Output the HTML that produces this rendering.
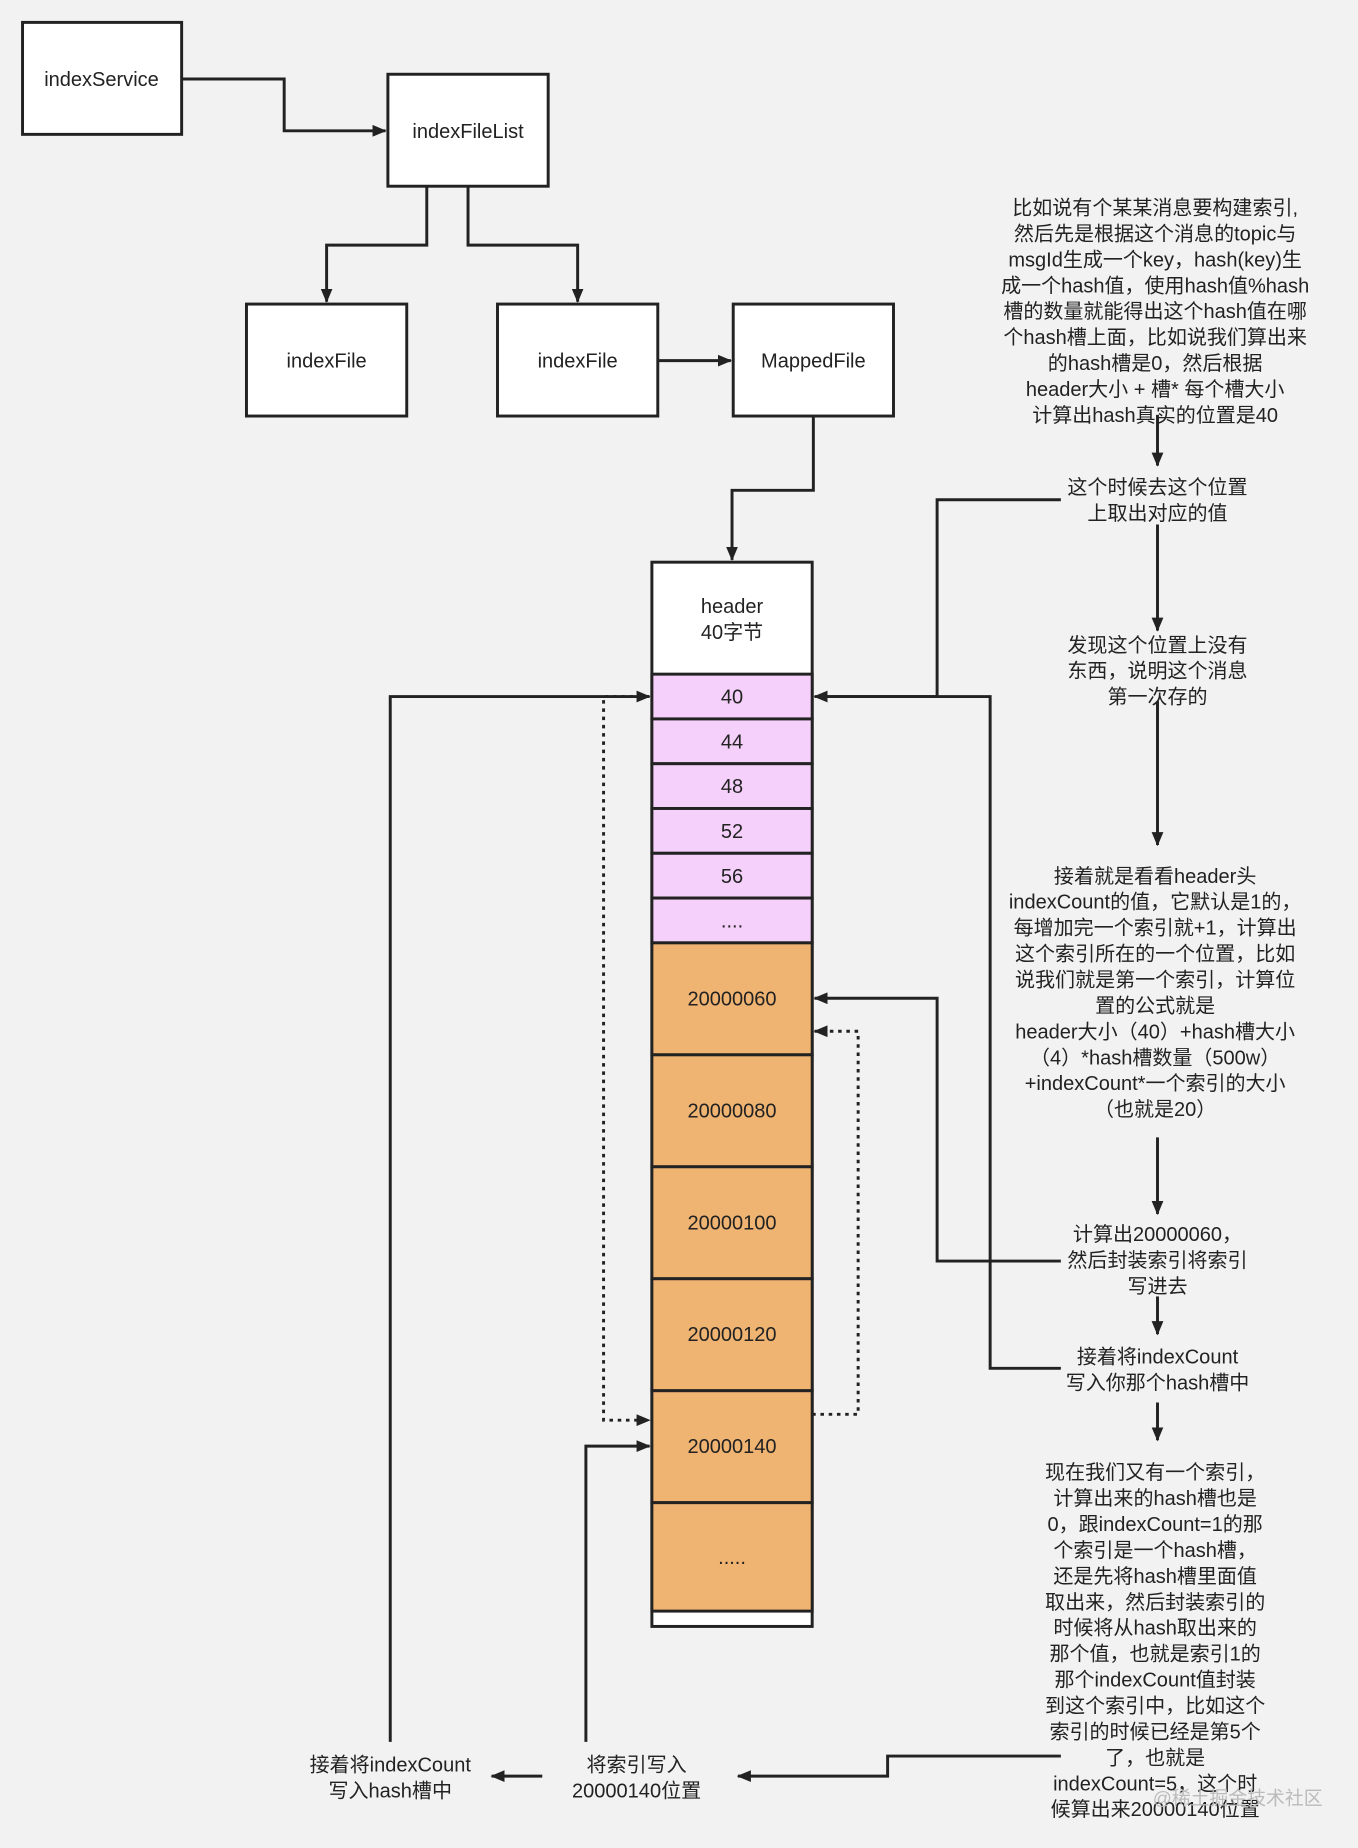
<!DOCTYPE html>
<html><head><meta charset="utf-8"><style>
html,body{margin:0;padding:0;background:#f2f2f2}
svg{display:block}
text{font-family:"Liberation Sans","Noto Sans CJK SC",sans-serif;font-size:17px;fill:#222;text-anchor:middle}
</style></head><body>
<svg width="1358" height="1848" viewBox="0 0 1152 1568" xmlns="http://www.w3.org/2000/svg">
<defs><marker id="a" markerWidth="12" markerHeight="10" refX="11" refY="5" orient="auto" markerUnits="userSpaceOnUse"><path d="M0,0 L12,5 L0,10 z" fill="#222"/></marker></defs>
<rect width="1152" height="1568" fill="#f2f2f2"/>
<g stroke="#222" stroke-width="2.5" fill="#fff">
<rect x="19" y="19" width="135" height="95"/>
<rect x="329" y="63" width="136" height="95"/>
<rect x="209" y="258" width="136" height="95"/>
<rect x="422" y="258" width="136" height="95"/>
<rect x="622" y="258" width="136" height="95"/>
<rect x="553" y="477" width="136" height="903"/>
<g fill="#f5d0fa"><rect x="553" y="572" width="136" height="38"/><rect x="553" y="610" width="136" height="38"/><rect x="553" y="648" width="136" height="38"/><rect x="553" y="686" width="136" height="38"/><rect x="553" y="724" width="136" height="38"/><rect x="553" y="762" width="136" height="38"/></g>
<g fill="#f0b472"><rect x="553" y="800" width="136" height="95"/><rect x="553" y="895" width="136" height="95"/><rect x="553" y="990" width="136" height="95"/><rect x="553" y="1085" width="136" height="95"/><rect x="553" y="1180" width="136" height="95"/><rect x="553" y="1275" width="136" height="92"/></g>
</g>
<g stroke="#222" stroke-width="2.5" fill="none">
<path d="M154,67 H241 V111 H327" marker-end="url(#a)"/>
<path d="M362,158 V208 H277 V256" marker-end="url(#a)"/>
<path d="M397,158 V208 H490 V256" marker-end="url(#a)"/>
<path d="M558,306 H620" marker-end="url(#a)"/>
<path d="M690,353 V416 H621 V475" marker-end="url(#a)"/>
<path d="M982,352 V395" marker-end="url(#a)"/>
<path d="M982,445 V535" marker-end="url(#a)"/>
<path d="M982,595 V717" marker-end="url(#a)"/>
<path d="M982,965 V1030" marker-end="url(#a)"/>
<path d="M982,1100 V1132" marker-end="url(#a)"/>
<path d="M982,1190 V1222" marker-end="url(#a)"/>
<path d="M900,424 H795 V591 H691" marker-end="url(#a)"/>
<path d="M900,1070 H795 V847 H691" marker-end="url(#a)"/>
<path d="M900,1161 H840 V591 H700"/>
<path d="M900,1490 H753 V1507 H626" marker-end="url(#a)"/>
<path d="M497,1478 V1227 H551" marker-end="url(#a)"/>
<path d="M460,1507 H417" marker-end="url(#a)"/>
<path d="M331,1478 V591 H551" marker-end="url(#a)"/>
<path d="M551,591 H512 V1205 H551" stroke-dasharray="3,4" marker-end="url(#a)"/>
<path d="M689,1200 H728 V875 H691" stroke-dasharray="3,4" marker-end="url(#a)"/>
</g>
<text x="86" y="73">indexService</text>
<text x="397" y="117">indexFileList</text>
<text x="277" y="312">indexFile</text>
<text x="490" y="312">indexFile</text>
<text x="690" y="312">MappedFile</text>
<text x="621" y="520">header</text><text x="621" y="542">40字节</text>
<text x="621" y="597">40</text><text x="621" y="635">44</text><text x="621" y="673">48</text><text x="621" y="711">52</text><text x="621" y="749">56</text><text x="621" y="787">....</text>
<text x="621" y="853">20000060</text><text x="621" y="948">20000080</text><text x="621" y="1043">20000100</text><text x="621" y="1138">20000120</text><text x="621" y="1233">20000140</text><text x="621" y="1327">.....</text>
<g>
<text x="980" y="182">比如说有个某某消息要构建索引,</text>
<text x="980" y="204">然后先是根据这个消息的topic与</text>
<text x="980" y="226">msgId生成一个key，hash(key)生</text>
<text x="980" y="248">成一个hash值，使用hash值%hash</text>
<text x="980" y="270">槽的数量就能得出这个hash值在哪</text>
<text x="980" y="292">个hash槽上面，比如说我们算出来</text>
<text x="980" y="314">的hash槽是0，然后根据</text>
<text x="980" y="336">header大小 + 槽* 每个槽大小</text>
<text x="980" y="358">计算出hash真实的位置是40</text>
<text x="982" y="419">这个时候去这个位置</text><text x="982" y="441">上取出对应的值</text>
<text x="982" y="553">发现这个位置上没有</text><text x="982" y="575">东西，说明这个消息</text><text x="982" y="597">第一次存的</text>
<text x="980" y="749">接着就是看看header头</text>
<text x="980" y="771">indexCount的值，它默认是1的，</text>
<text x="980" y="793">每增加完一个索引就+1，计算出</text>
<text x="980" y="815">这个索引所在的一个位置，比如</text>
<text x="980" y="837">说我们就是第一个索引，计算位</text>
<text x="980" y="859">置的公式就是</text>
<text x="980" y="881">header大小（40）+hash槽大小</text>
<text x="980" y="903">（4）*hash槽数量（500w）</text>
<text x="980" y="925">+indexCount*一个索引的大小</text>
<text x="980" y="947">（也就是20）</text>
<text x="982" y="1053">计算出20000060，</text><text x="982" y="1075">然后封装索引将索引</text><text x="982" y="1097">写进去</text>
<text x="982" y="1157">接着将indexCount</text><text x="982" y="1179">写入你那个hash槽中</text>
<text x="980" y="1255">现在我们又有一个索引，</text>
<text x="980" y="1277">计算出来的hash槽也是</text>
<text x="980" y="1299">0，跟indexCount=1的那</text>
<text x="980" y="1321">个索引是一个hash槽，</text>
<text x="980" y="1343">还是先将hash槽里面值</text>
<text x="980" y="1365">取出来，然后封装索引的</text>
<text x="980" y="1387">时候将从hash取出来的</text>
<text x="980" y="1409">那个值，也就是索引1的</text>
<text x="980" y="1431">那个indexCount值封装</text>
<text x="980" y="1453">到这个索引中，比如这个</text>
<text x="980" y="1475">索引的时候已经是第5个</text>
<text x="980" y="1497">了，也就是</text>
<text x="980" y="1519">indexCount=5，这个时</text>
<text x="980" y="1541">候算出来20000140位置</text>
<text x="540" y="1503">将索引写入</text><text x="540" y="1525">20000140位置</text>
<text x="331" y="1503">接着将indexCount</text><text x="331" y="1525">写入hash槽中</text>
<text x="1050" y="1531" style="fill:#bbb;font-size:16px">@稀土掘金技术社区</text>
</g>
</svg>
</body></html>
